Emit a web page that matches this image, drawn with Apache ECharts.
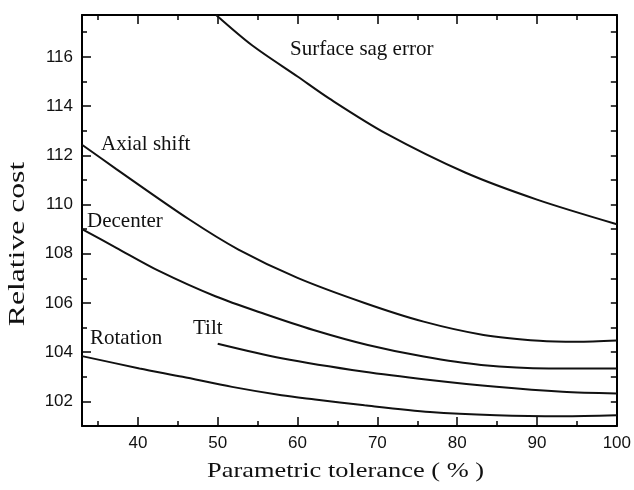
<!DOCTYPE html>
<html><head><meta charset="utf-8">
<script src="https://cdn.jsdelivr.net/npm/echarts@6/dist/echarts.min.js"></script>
<style>html,body{margin:0;padding:0;background:#fff}#c{width:634px;height:490px}</style>
</head><body><div id="c"></div>
<script>
// ---- data ----
const xRange = [33, 100];
const yRange = [101, 117.7];
const xMajorTicks = [40, 50, 60, 70, 80, 90, 100];
const xMinorTicks = [35, 45, 55, 65, 75, 85, 95];
const yMajorTicks = [102, 104, 106, 108, 110, 112, 114, 116];
const yMinorTicks = [101, 103, 105, 107, 109, 111, 113, 115, 117];

const seriesNames = ['Surface sag error', 'Axial shift', 'Decenter', 'Tilt', 'Rotation'];

const surfaceX = [49.8, 54.3, 60, 64, 71, 81, 90, 100];
const surfaceY = [117.7, 116.47, 115.2, 114.3, 112.9, 111.3, 110.2, 109.2];

const axialX = [33, 37.3, 46.4, 52.6, 60, 68.4, 75.8, 83.3, 90.3, 95, 100];
const axialY = [112.43, 111.44, 109.4, 108.17, 107.02, 106.0, 105.24, 104.7, 104.46, 104.42, 104.47];

const decenterX = [33, 37.3, 42.7, 49.7, 55.9, 62, 68.8, 75.8, 83, 91.5, 100];
const decenterY = [109.0, 108.24, 107.29, 106.27, 105.55, 104.9, 104.29, 103.82, 103.48, 103.34, 103.34];

const tiltX = [50, 58, 68.4, 76.6, 84.9, 93.2, 100];
const tiltY = [104.34, 103.75, 103.2, 102.87, 102.59, 102.39, 102.32];

const rotationX = [33, 40.2, 45.6, 51.8, 58, 62.2, 68.4, 76.6, 84.9, 93.2, 100];
const rotationY = [103.84, 103.34, 103.0, 102.59, 102.25, 102.08, 101.84, 101.57, 101.44, 101.4, 101.44];

const xTitle = 'Parametric tolerance ( % )';
const yTitle = 'Relative cost';

// ---- chart ----
const pairs = (xs, ys) => xs.map((x, i) => [x, ys[i]]);
const allSeries = [
  pairs(surfaceX, surfaceY),
  pairs(axialX, axialY),
  pairs(decenterX, decenterY),
  pairs(tiltX, tiltY),
  pairs(rotationX, rotationY)
];

const SANS = '"Liberation Sans", Arial, sans-serif';
const SERIF = '"Liberation Serif", "Times New Roman", serif';

function xAx(pos, ticks, len, showLabel, showLine) {
  return {
    type: 'value', position: pos, min: xRange[0], max: xRange[1],
    axisLine: { show: showLine, onZero: false, lineStyle: { color: '#000', width: 2 } },
    axisTick: { show: true, inside: true, length: len, customValues: ticks, lineStyle: { color: '#000', width: 1.5 } },
    axisLabel: { show: showLabel, customValues: ticks, margin: 9, color: '#111', fontFamily: SANS, fontSize: 17 },
    splitLine: { show: false }
  };
}
function yAx(pos, ticks, len, showLabel, showLine) {
  return {
    type: 'value', position: pos, min: yRange[0], max: yRange[1],
    axisLine: { show: showLine, onZero: false, lineStyle: { color: '#000', width: 2 } },
    axisTick: { show: true, inside: true, length: len, customValues: ticks, lineStyle: { color: '#000', width: 1.5 } },
    axisLabel: { show: showLabel, customValues: ticks, margin: 9, color: '#111', fontFamily: SANS, fontSize: 17 },
    splitLine: { show: false }
  };
}

const labelPos = [[290, 49.5], [101, 144], [87, 221], [193, 328.5], [90, 338.5]];

const chart = echarts.init(document.getElementById('c'), null, { renderer: 'canvas' });
chart.setOption({
  animation: false,
  backgroundColor: '#fff',
  grid: { left: 82, right: 14, top: 15, bottom: 64, containLabel: false, show: false },
  xAxis: [
    xAx('bottom', xMajorTicks, 9, true, true),
    xAx('bottom', xMinorTicks, 5, false, false),
    xAx('top', xMajorTicks, 9, false, true),
    xAx('top', xMinorTicks, 5, false, false)
  ],
  yAxis: [
    yAx('left', yMajorTicks, 9, true, true),
    yAx('left', yMinorTicks, 5, false, false),
    yAx('right', yMajorTicks, 6, false, true),
    yAx('right', yMinorTicks, 6, false, false)
  ],
  series: allSeries.map((d, i) => ({
    type: 'line', name: seriesNames[i], data: d, xAxisIndex: 0, yAxisIndex: 0,
    smooth: 0.3, symbol: 'none', silent: true,
    lineStyle: { color: '#111', width: 2 }
  })),
  graphic: [
    ...seriesNames.map((n, i) => ({
      type: 'text', x: labelPos[i][0], y: labelPos[i][1], silent: true,
      style: { text: n, fill: '#111', font: '21px ' + SERIF, align: 'left', verticalAlign: 'middle' }
    })),
    {
      type: 'text', x: 345.5, y: 471.5, scaleX: 1.2, silent: true,
      style: { text: xTitle, fill: '#111', font: '22px ' + SERIF, align: 'center', verticalAlign: 'middle' }
    },
    {
      type: 'text', x: 18, y: 244, rotation: Math.PI / 2, scaleX: 1.32, silent: true,
      style: { text: yTitle, fill: '#111', font: '24px ' + SERIF, align: 'center', verticalAlign: 'middle' }
    }
  ]
});
</script></body></html>
